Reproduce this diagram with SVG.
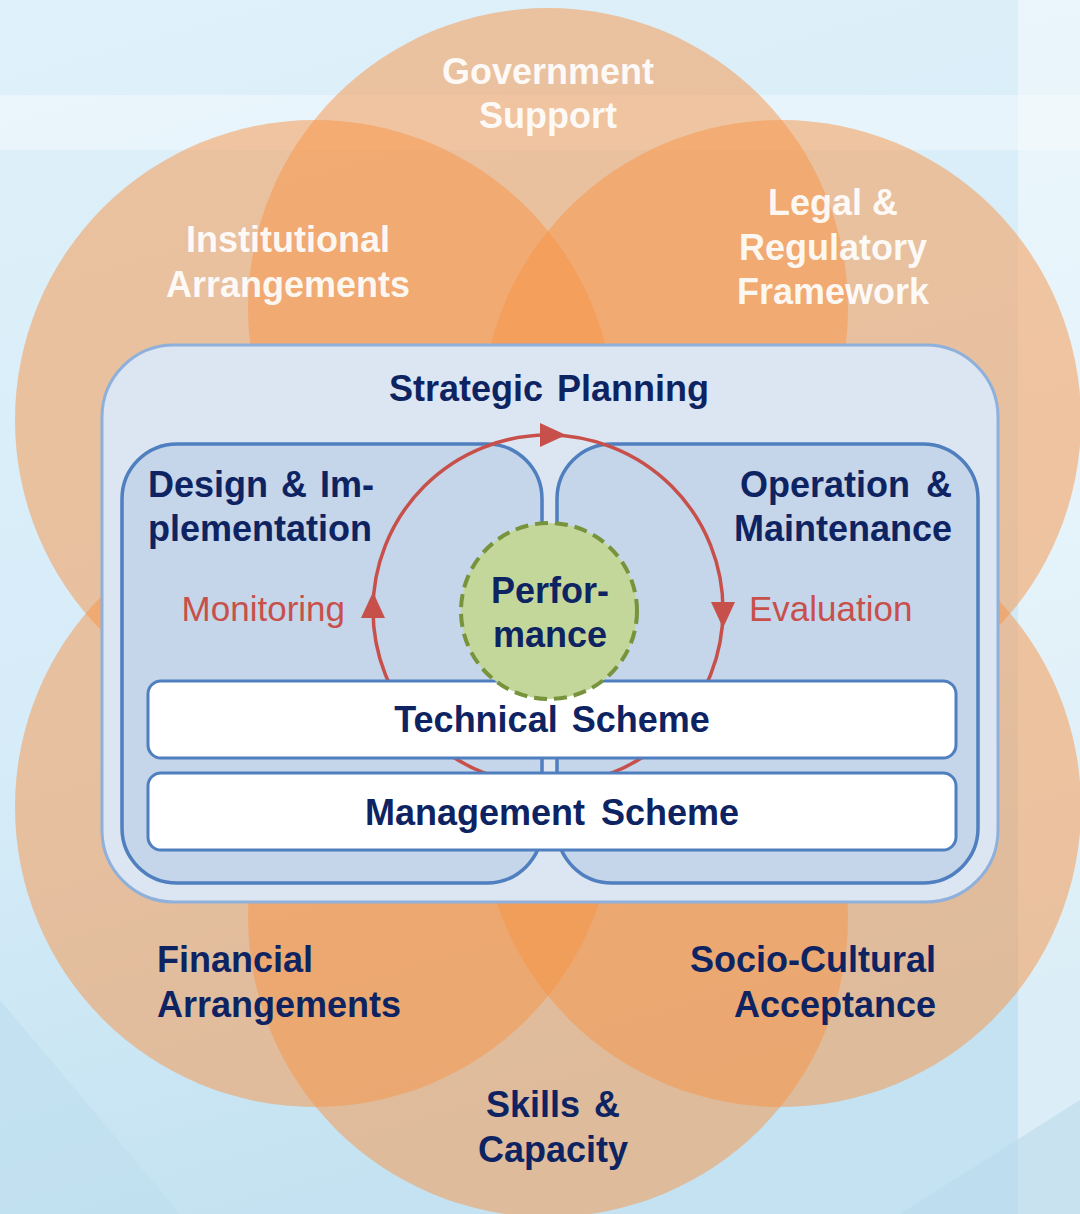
<svg xmlns="http://www.w3.org/2000/svg" width="1080" height="1214" viewBox="0 0 1080 1214">
<defs>
<linearGradient id="bg" x1="0" y1="0" x2="0.25" y2="1">
<stop offset="0" stop-color="#DFF1FA"/>
<stop offset="0.6" stop-color="#D6ECF8"/>
<stop offset="1" stop-color="#C4E2F1"/>
</linearGradient>
<marker id="arr" markerUnits="userSpaceOnUse" markerWidth="26" markerHeight="24" viewBox="0 0 26 24" refX="8" refY="12" orient="auto">
<path d="M0,0 L26,12 L0,24 z" fill="#C8504A"/>
</marker>
</defs>
<style>
.ring{fill:#F79446;fill-opacity:0.5}
.lbl{font-family:"Liberation Sans",Arial,sans-serif;font-weight:bold;font-size:36px}
.wt{fill:#FFFFFF;fill-opacity:0.92}
.nv{fill:#0E2462}
.rd{font-family:"Liberation Sans",Arial,sans-serif;font-size:35px;fill:#C8504A}
.inner{fill:#C5D5EA;stroke:#4F7FBF;stroke-width:3.5}
.scheme{fill:#FFFFFF;stroke:#4F7FBF;stroke-width:3}
</style>
<rect x="0" y="0" width="1080" height="1214" fill="url(#bg)"/>
<rect x="0" y="95" width="1080" height="55" fill="#FFFFFF" fill-opacity="0.35"/>
<rect x="1018" y="0" width="62" height="1214" fill="#FFFFFF" fill-opacity="0.4"/>
<polygon points="0,1000 180,1214 0,1214" fill="#BEDDEE" fill-opacity="0.6"/>
<polygon points="900,1214 1080,1100 1080,1214" fill="#BADBEC" fill-opacity="0.6"/>

<g id="circles">
<circle class="ring" cx="548" cy="308" r="300"/>
<circle class="ring" cx="315" cy="420" r="300"/>
<circle class="ring" cx="781" cy="420" r="300"/>
<circle class="ring" cx="315" cy="807" r="300"/>
<circle class="ring" cx="781" cy="807" r="300"/>
<circle class="ring" cx="548" cy="917" r="300"/>
</g>

<g id="label-government"><text class="lbl wt" text-anchor="middle"><tspan x="548" y="84">Government</tspan><tspan x="548" y="128">Support</tspan></text></g>
<g id="label-institutional"><text class="lbl wt" text-anchor="middle"><tspan x="288" y="252">Institutional</tspan><tspan x="288" y="297">Arrangements</tspan></text></g>
<g id="label-legal"><text class="lbl wt" text-anchor="middle"><tspan x="833" y="215">Legal &amp;</tspan><tspan x="833" y="260">Regulatory</tspan><tspan x="833" y="304">Framework</tspan></text></g>
<g id="label-financial"><text class="lbl nv" text-anchor="start"><tspan x="157" y="972">Financial</tspan><tspan x="157" y="1017">Arrangements</tspan></text></g>
<g id="label-socio"><text class="lbl nv" text-anchor="end"><tspan x="936" y="972">Socio-Cultural</tspan><tspan x="936" y="1017">Acceptance</tspan></text></g>
<g id="label-skills"><text class="lbl nv" text-anchor="middle" word-spacing="4"><tspan x="553" y="1117">Skills &amp;</tspan><tspan x="553" y="1162">Capacity</tspan></text></g>

<g id="strategic-planning">
<rect x="102" y="345" width="896" height="557" rx="72" fill="#DCE6F2" stroke="#8EB0DA" stroke-width="3"/>
<text class="lbl nv" x="549" y="401" text-anchor="middle" word-spacing="4">Strategic Planning</text>
</g>

<g id="design-implementation">
<rect class="inner" x="122" y="444" width="420" height="439" rx="55"/>
<text class="lbl nv" text-anchor="start"><tspan x="148" y="497" word-spacing="3">Design &amp; Im-</tspan><tspan x="148" y="541">plementation</tspan></text>
</g>

<g id="operation-maintenance">
<rect class="inner" x="557" y="444" width="421" height="439" rx="55"/>
<text class="lbl nv" text-anchor="end"><tspan x="952" y="497" word-spacing="6">Operation &amp;</tspan><tspan x="952" y="541">Maintenance</tspan></text>
</g>

<g id="connectors">
<path d="M548,785 A175,175 0 0 1 373,610 A175,175 0 0 1 548,435 A175,175 0 0 1 723,610 A175,175 0 0 1 548,785" fill="none" stroke="#C8504A" stroke-width="3.5" marker-mid="url(#arr)"/>
<text class="rd" x="345" y="621" text-anchor="end">Monitoring</text>
<text class="rd" x="749" y="621" text-anchor="start">Evaluation</text>
</g>

<g id="technical-scheme">
<rect class="scheme" x="148" y="681" width="808" height="77" rx="13"/>
<text class="lbl nv" x="552" y="732" text-anchor="middle" word-spacing="4">Technical Scheme</text>
</g>

<g id="management-scheme">
<rect class="scheme" x="148" y="773" width="808" height="77" rx="13"/>
<text class="lbl nv" x="552" y="825" text-anchor="middle" word-spacing="6">Management Scheme</text>
</g>

<g id="performance">
<circle cx="549" cy="611" r="88" fill="#C4D79B" stroke="#77933C" stroke-width="4" stroke-dasharray="13 7"/>
<text class="lbl nv" text-anchor="middle"><tspan x="550" y="603">Perfor-</tspan><tspan x="550" y="647">mance</tspan></text>
</g>
</svg>
